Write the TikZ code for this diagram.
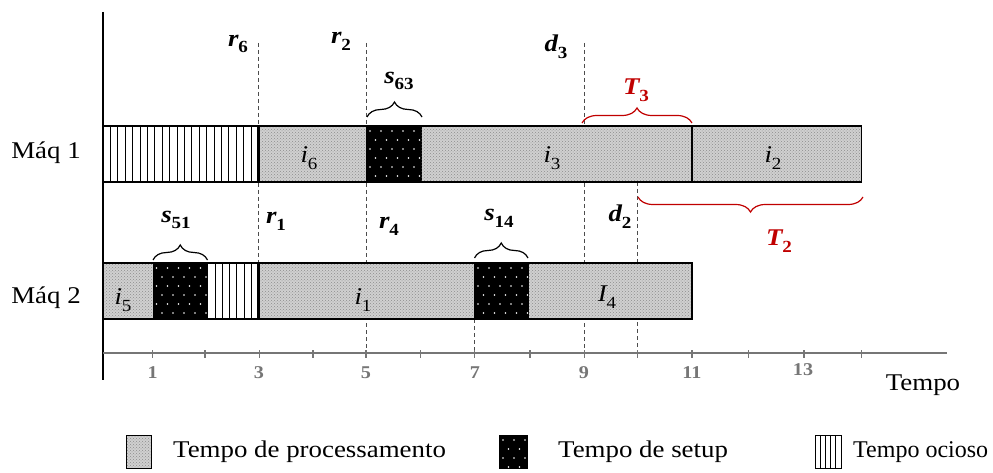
\documentclass[tikz,border=0pt]{standalone}
\usepackage{fontspec}
\setmainfont{Liberation Serif}[FakeStretch=1.12]
\usetikzlibrary{decorations.pathreplacing,patterns}

\definecolor{tardy}{RGB}{192,0,0}
\definecolor{axisgray}{RGB}{118,118,118}
\definecolor{procgray}{RGB}{208,208,208}

% bold italic symbol with bold subscript, plain italic symbol with subscript
\newcommand{\bsym}[2]{{\bfseries\itshape #1}\raisebox{-0.28em}{\fontsize{17}{17}\selectfont\bfseries #2}}
\newcommand{\isym}[2]{{\itshape #1}\raisebox{-0.28em}{\fontsize{17}{17}\selectfont #2}}

% processing block: light grey with fine dot texture
\newcommand{\procblock}[4]{%
  \fill[procgray] (#1,#2) rectangle (#3,#4);
  \fill[pattern=crosshatch dots, pattern color=black!45] (#1,#2) rectangle (#3,#4);
}
% setup block: black with a staggered grid of white dots
\newcommand{\setupblock}[4]{%
  \fill[black] (#1,#2) rectangle (#3,#4);
  \begin{scope}
    \clip (#1,#2) rectangle (#3,#4);
    \foreach \r in {0,...,6}{
      \foreach \c in {0,...,6}{
        \fill[white] ({#1+4+\c*11+mod(\r,2)*5.5},{#2+5+\r*9}) circle[radius=0.8pt];
      }
    }
  \end{scope}
}
% idle block: white with thin vertical stripes
\newcommand{\idleblock}[5]{%
  \fill[white] (#1,#2) rectangle (#3,#4);
  \foreach \k in {1,...,#5}{
    \draw[line width=0.9pt] ({#1+\k*(#3-#1)/(#5+1)},#2) -- ({#1+\k*(#3-#1)/(#5+1)},#4);
  }
}

\begin{document}
\begin{tikzpicture}[x=1pt,y=-1pt,
  txt/.style={font=\fontsize{24}{28}\selectfont, inner sep=0pt},
  redtxt/.style={txt, text=tardy},
  ticklabel/.style={font=\fontsize{18}{20}\selectfont\bfseries, text=axisgray, inner sep=0pt},
  guide/.style={draw=black!70, dash pattern=on 4pt off 3pt, line width=0.8pt},
  barline/.style={draw=black, line width=1.5pt},
  blackbrace/.style={decorate, decoration={brace, amplitude=15pt}, line width=1.2pt},
  redbrace/.style={blackbrace, draw=tardy},
]
\useasboundingbox (0,0) rectangle (993,473);

% dashed guide lines (drawn under the bars)
\draw[guide] (258.5,43) -- (258.5,263);
\draw[guide] (366,43) -- (366,353);
\draw[guide] (474.5,319) -- (474.5,353);
\draw[guide] (584,43) -- (584,353);
\draw[guide] (637.7,182) -- (637.7,353);

% axes
\draw[line width=1.5pt] (103,12) -- (103,380);
\draw[draw=axisgray, line width=2pt] (103,353) -- (947,353);
\foreach \xx in {152.7,205,259.3,313,366,420.7,474.7,530,584.3,637.7,692,748.3,804,861.7}
  \draw[draw=axisgray, line width=1.2pt] (\xx,350) -- (\xx,358);
\node[ticklabel] (t1) at (152.7,373) {1};
\node[ticklabel] (t3) at (259,373) {3};
\node[ticklabel] (t5) at (366,373) {5};
\node[ticklabel] (t7) at (475,373) {7};
\node[ticklabel] (t9) at (584,373) {9};
\node[ticklabel] (t11) at (692,373) {11};
\node[ticklabel] (t13) at (803,370) {13};
\node[txt] (tempo) at (923,385) {Tempo};

% machine 1
\idleblock{103}{126}{258.5}{182}{20}
\procblock{258.5}{126}{366}{182}
\setupblock{366}{126}{421.7}{182}
\procblock{421.7}{126}{692}{182}
\procblock{692}{126}{861.7}{182}
\draw[barline] (103,126) rectangle (861.7,182);
\draw[line width=2.4pt] (258.5,126) -- (258.5,182);
\draw[line width=1.3pt] (692,126) -- (692,182);

% machine 2
\procblock{103}{263}{152.5}{319}
\setupblock{152.5}{263}{207.7}{319}
\idleblock{207.7}{263}{258.5}{319}{6}
\procblock{258.5}{263}{474}{319}
\setupblock{474}{263}{529}{319}
\procblock{529}{263}{692}{319}
\draw[barline] (103,263) rectangle (692,319);
\draw[line width=2.4pt] (258.5,263) -- (258.5,319);

% machine names
\node[txt] (m1) at (46,153) {Máq 1};
\node[txt] (m2) at (46,298) {Máq 2};

% job labels inside the bars
\node[txt] (i6) at (309,158) {\isym{i}{6}};
\node[txt] (i3) at (552,158) {\isym{i}{3}};
\node[txt] (i2) at (773,158) {\isym{i}{2}};
\node[txt] (i5) at (123,300) {\isym{i}{5}};
\node[txt] (i1) at (363,300) {\isym{i}{1}};
\node[txt] (I4) at (607,297) {\isym{I}{4}};

% release and due dates
\node[txt] (r6) at (238,44) {\bsym{r}{6}};
\node[txt] (r2) at (341,41) {\bsym{r}{2}};
\node[txt] (d3) at (556,47) {\bsym{d}{3}};
\node[txt] (r1) at (276,221) {\bsym{r}{1}};
\node[txt] (r4) at (389,226) {\bsym{r}{4}};
\node[txt] (d2) at (620,217) {\bsym{d}{2}};

% setup braces
\draw[blackbrace] (367,117) -- (422,117);
\node[txt] (s63) at (399,81) {\bsym{s}{63}};
\draw[blackbrace] (153,260) -- (207.5,260);
\node[txt] (s51) at (176,220) {\bsym{s}{51}};
\draw[blackbrace] (474.5,258) -- (528,258);
\node[txt] (s14) at (499,218) {\bsym{s}{14}};

% tardiness braces
\draw[redbrace] (582,123) -- (692,123);
\node[redtxt] (T3) at (636,90) {\bsym{T}{3}};
\draw[redbrace] (863,197) -- (638,197);
\node[redtxt] (T2) at (779,241) {\bsym{T}{2}};

% legend
\procblock{126}{435}{151}{468}
\draw[line width=1pt] (126,435) rectangle (151,468);
\node[txt, anchor=west] (leg1) at (173,452) {Tempo de processamento};
\setupblock{499}{435}{527}{468}
\draw[line width=1pt] (499,435) rectangle (527,468);
\node[txt, anchor=west] (leg2) at (558,452) {Tempo de setup};
\idleblock{815}{435}{841}{468}{4}
\draw[line width=1pt] (815,435) rectangle (841,468);
\node[txt, anchor=west] (leg3) at (853,452) {\addfontfeature{FakeStretch=1.0}Tempo ocioso};
\end{tikzpicture}
\end{document}
